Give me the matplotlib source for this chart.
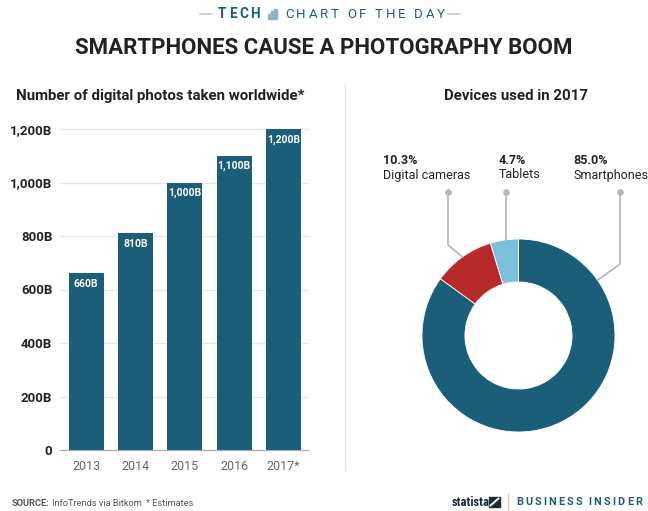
import matplotlib
matplotlib.use("Agg")
import matplotlib.pyplot as plt
import matplotlib.patches as mpatches
import numpy as np

plt.rcParams['font.family'] = ['Roboto', 'DejaVu Sans']

# data
years = ['2013', '2014', '2015', '2016', '2017*']
photos = [660, 810, 1000, 1100, 1200]  # billions
photo_labels = ['660B', '810B', '1,000B', '1,100B', '1,200B']
y_ticks = [0, 200, 400, 600, 800, 1000, 1200]
y_tick_labels = ['0', '200B', '400B', '600B', '800B', '1,000B', '1,200B']

devices = ['Smartphones', 'Digital cameras', 'Tablets']
shares = [85.0, 10.3, 4.7]

DARK = '#1a5e7a'
RED = '#b8292a'
LIGHT = '#7cbfdc'
TXT = '#222222'
W, H = 648, 511

fig = plt.figure(figsize=(W / 100, H / 100), dpi=100)


def fx(x):
    return x / W


def fy(y):
    return 1 - y / H


# ---- bar chart
ax = fig.add_axes([fx(60), fy(450), fx(308) - fx(60), fy(129) - fy(450)])
x = np.arange(len(years))
bars = ax.bar(x, photos, width=0.71, color=DARK, zorder=3)
ax.set_xlim(-0.53, 4.5)
ax.set_ylim(0, 1200)
ax.set_yticks(y_ticks)
ax.set_yticklabels(y_tick_labels, fontsize=9.5, fontweight='bold', color=TXT)
ax.set_xticks(x)
ax.set_xticklabels(years, fontsize=9, color='#666666')
ax.tick_params(length=0)
ax.tick_params(axis='y', pad=5.5)
ax.tick_params(axis='x', pad=7)
ax.grid(axis='y', color='#e6e6e6', lw=1, zorder=0)
for ln in ax.get_ygridlines():
    ln.set_clip_on(False)
for s in ['top', 'right', 'left']:
    ax.spines[s].set_visible(False)
ax.spines['bottom'].set_color('#aaaaaa')
ax.spines['bottom'].set_zorder(4)
for xi, v, lab in zip(x, photos, photo_labels):
    ax.annotate(lab, (xi, v), xytext=(0, -7.5), textcoords='offset points',
                ha='center', va='center', color='white', fontsize=7.5,
                fontweight='bold', zorder=5)

# ---- donut
cx, cy, r = 518.5, 335.5, 96.5
pax = fig.add_axes([fx(cx - r), fy(cy + r), 2 * r / W, 2 * r / H])
wedges, _ = pax.pie(shares, colors=[DARK, RED, LIGHT], startangle=90,
                    counterclock=False, radius=1,
                    wedgeprops=dict(width=0.445, edgecolor='white', linewidth=0.6))
pax.set_xlim(-1, 1)
pax.set_ylim(-1, 1)
pax.set_aspect('auto')
pax.axis('off')

# ---- overlay for text and decoration
ov = fig.add_axes([0, 0, 1, 1])
ov.set_xlim(0, W)
ov.set_ylim(H, 0)
ov.axis('off')


def tracked(x0, x1, y, s, size, color, weight='normal'):
    # spread letters so the word runs from x0 to x1
    rend = fig.canvas.get_renderer()
    texts, widths = [], []
    for ch in s:
        if ch == ' ':
            texts.append(None)
            widths.append(size * 0.3)
            continue
        t = ov.text(0, y, ch, fontsize=size, color=color, fontweight=weight,
                    ha='left', va='center')
        texts.append(t)
        widths.append(t.get_window_extent(renderer=rend).width)
    track = (x1 - x0 - sum(widths)) / (len(s) - 1)
    xx = x0
    for t, w in zip(texts, widths):
        if t is not None:
            t.set_x(xx)
        xx += w + track


# header
ov.plot([200, 212], [14, 14], color='#cccccc', lw=1.2)
ov.plot([448, 460], [14, 14], color='#cccccc', lw=1.2)
tracked(218, 260, 14, 'TECH', 9.8, DARK, 'bold')
for i, hh in enumerate([5, 7.5, 10]):
    ov.add_patch(mpatches.Rectangle((268 + i * 3.2, 19 - hh), 2.5, hh, color='#8fb3c4'))
tracked(285, 445, 14, 'CHART OF THE DAY', 9.5, DARK, 'normal')

ov.text(324, 48, 'SMARTPHONES CAUSE A PHOTOGRAPHY BOOM', fontsize=16,
        fontweight='bold', color=TXT, ha='center', va='center')

ov.text(16, 96, 'Number of digital photos taken worldwide*', fontsize=10.8,
        fontweight='bold', color=TXT, ha='left', va='center')
ov.text(516, 96, 'Devices used in 2017', fontsize=10.8,
        fontweight='bold', color=TXT, ha='center', va='center')

ov.plot([345, 345], [85, 470], color='#e4e4e4', lw=1)

# donut labels and leader lines
ang = np.deg2rad(125.5)
ex, ey = cx + 1.0 * r * np.cos(ang), cy - 1.0 * r * np.sin(ang)
ov.plot([448, 448, ex], [192, 245, ey], color='#b5b5b5', lw=1.2)
ang = np.deg2rad(98.5)
ex, ey = cx + r * np.cos(ang), cy - r * np.sin(ang)
ov.plot([506, 506], [192, ey], color='#b5b5b5', lw=1.2)
ang = np.deg2rad(35)
ex, ey = cx + 1.0 * r * np.cos(ang), cy - 1.0 * r * np.sin(ang)
ov.plot([620, 620, ex], [192, 264, ey], color='#b5b5b5', lw=1.2)
ov.scatter([448, 506, 620], [192, 192, 192], s=14, color='#b5b5b5', zorder=5)

label_x = {'Digital cameras': 383, 'Tablets': 499, 'Smartphones': 573}
for d, v in zip(devices, shares):
    ov.text(label_x[d], 161, f'{v:.1f}%', fontsize=9, fontweight='bold',
            color=TXT, ha='left', va='center')
    ov.text(label_x[d], 175, d, fontsize=9, color=TXT, ha='left', va='center')

# footer
ov.text(12, 503, 'SOURCE:', fontsize=6.7, fontweight='bold', color='#555555',
        ha='left', va='center')
ov.text(52, 503, 'InfoTrends via Bitkom', fontsize=6.7, color='#555555',
        ha='left', va='center')
ov.text(146, 503, '* Estimates', fontsize=6.7, color='#555555',
        ha='left', va='center')
ov.text(452, 502, 'statista', fontsize=9, fontweight='bold', color='#1c2a3a',
        ha='left', va='center', family='Roboto Condensed')
ov.add_patch(mpatches.Rectangle((489, 497), 11, 10, color='#1c2a3a'))
ov.plot([490.5, 498.5], [505.5, 498.5], color='white', lw=1.4)
ov.plot([508, 508], [494, 511], color='#cccccc', lw=1)
tracked(516, 642, 502, 'BUSINESS INSIDER', 7.8, DARK, 'bold')

fig.savefig('out.png', dpi=100)
